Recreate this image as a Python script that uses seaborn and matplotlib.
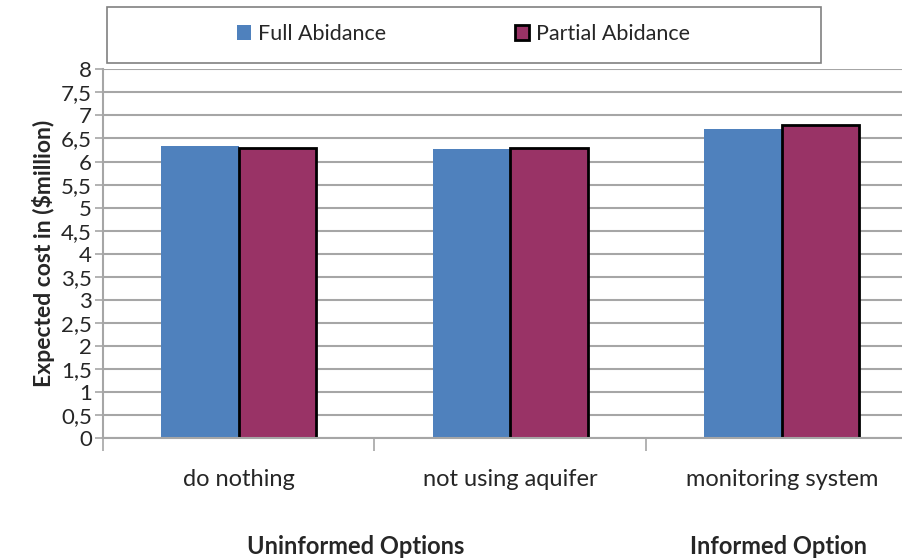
import pandas as pd
import matplotlib
matplotlib.use("Agg")
import matplotlib.pyplot as plt
import seaborn as sns
from matplotlib.patches import Rectangle

# Data
options = ["do nothing", "not using aquifer", "monitoring system"]
full_abidance = [6.34, 6.27, 6.70]
partial_abidance = [6.30, 6.29, 6.79]
series_names = ["Full Abidance", "Partial Abidance"]
y_ticks = [0, 0.5, 1, 1.5, 2, 2.5, 3, 3.5, 4, 4.5, 5, 5.5, 6, 6.5, 7, 7.5, 8]
group_labels = ["Uninformed Options", "Informed Option"]

df = pd.DataFrame({
    "option": options * 2,
    "series": [series_names[0]] * 3 + [series_names[1]] * 3,
    "cost": full_abidance + partial_abidance,
})

sns.set_theme(style="white")
plt.rcParams["font.family"] = ["Lato", "DejaVu Sans"]

BLUE = "#4F81BD"
MAROON = "#993366"
GRID = "#A6A6A6"

fig = plt.figure(figsize=(9.03, 5.59), dpi=100)
ax = fig.add_axes([103 / 903, (559 - 438.3) / 559, 814.5 / 903, 369 / 559])

sns.barplot(data=df, x="option", y="cost", hue="series", order=options,
            hue_order=series_names, palette=[BLUE, MAROON], width=0.5714,
            gap=0, saturation=1, legend=False, ax=ax)

for bar in ax.containers[0]:
    bar.set_edgecolor("none")
for bar in ax.containers[1]:
    bar.set_edgecolor("black")
    bar.set_linewidth(2)

ax.set_xlim(-0.5, 2.5)
ax.set_ylim(0, 8)
ax.set_yticks(y_ticks)
ax.set_yticklabels([f"{t:g}".replace(".", ",") for t in y_ticks])
ax.yaxis.grid(True, color=GRID, linewidth=1.5)
ax.set_axisbelow(True)

# category ticks sit between categories, labels centred on the bars
ax.set_xticks([-0.5, 0.5, 1.5, 2.5])
ax.set_xticklabels([])
ax.set_xticks(range(len(options)), minor=True)
ax.set_xticklabels(options, minor=True)
ax.tick_params(axis="x", which="major", length=9, width=1.2, color=GRID, direction="out", bottom=True)
ax.tick_params(axis="x", which="minor", length=0, pad=22, labelsize=17)
ax.tick_params(axis="y", length=6, width=1.2, color=GRID, direction="out", left=True,
               labelsize=16, pad=2)

for side in ["top", "right"]:
    ax.spines[side].set_visible(False)
for side in ["left", "bottom"]:
    ax.spines[side].set_color(GRID)
    ax.spines[side].set_linewidth(1.5)

ax.set_xlabel("")
ax.set_ylabel("Expected cost in ($million)", fontsize=16.5, fontweight="bold", labelpad=4)

# group labels under the categories
fig.text(356 / 903, 1 - 547 / 559, group_labels[0], ha="center", va="center",
         fontsize=17, fontweight="bold")
fig.text(778 / 903, 1 - 547 / 559, group_labels[1], ha="center", va="center",
         fontsize=17, fontweight="bold")

# legend box on top
fig.patches.append(Rectangle((107 / 903, 1 - 63 / 559), 714 / 903, 56 / 559,
                             transform=fig.transFigure, facecolor="white",
                             edgecolor="#808080", linewidth=1.2))
handles = [Rectangle((0, 0), 1, 1, facecolor=BLUE, edgecolor="none"),
           Rectangle((0, 0), 1, 1, facecolor=MAROON, edgecolor="black", linewidth=2)]
fig.legend(handles, series_names, loc="center", bbox_to_anchor=(463.5 / 903, 1 - 34 / 559),
           ncol=2, frameon=False, fontsize=15.5, handlelength=0.65, handleheight=0.65,
           handletextpad=0.3, columnspacing=6.0)

fig.savefig("out.png", dpi=100)
